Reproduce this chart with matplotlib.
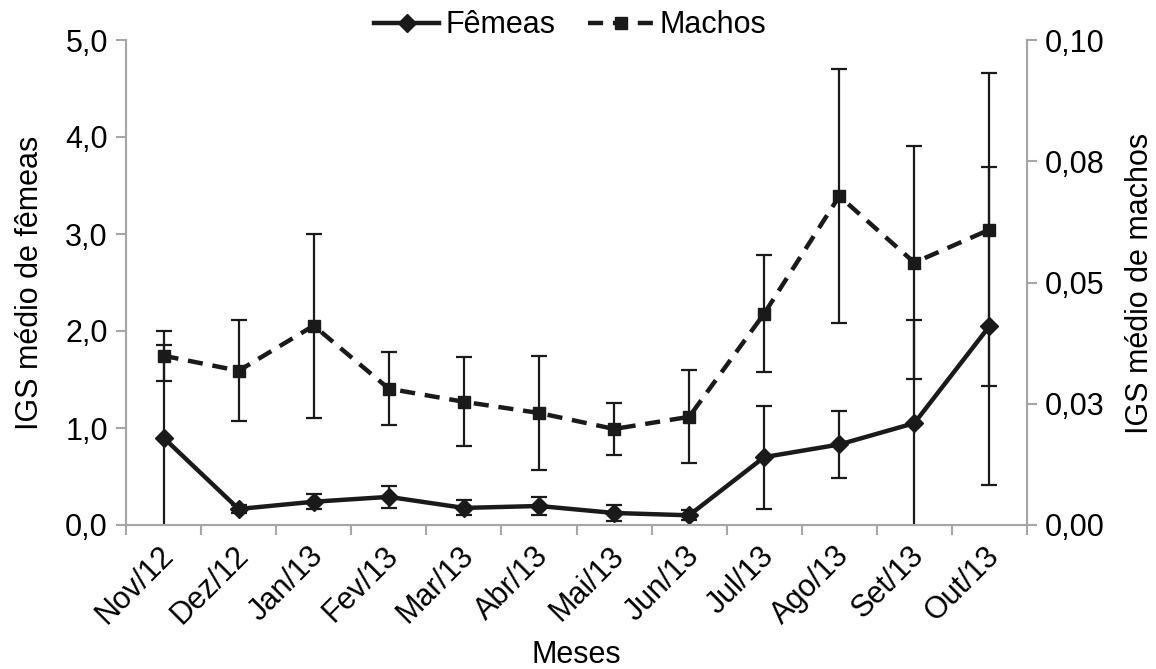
import numpy as np
import matplotlib.pyplot as plt
from matplotlib.lines import Line2D

plt.rcParams['font.family'] = ['Liberation Sans', 'DejaVu Sans']

meses = ["Nov/12", "Dez/12", "Jan/13", "Fev/13", "Mar/13", "Abr/13",
         "Mai/13", "Jun/13", "Jul/13", "Ago/13", "Set/13", "Out/13"]

# IGS medio das femeas (eixo esquerdo) e desvio
femeas = [0.90, 0.165, 0.24, 0.29, 0.176, 0.196, 0.124, 0.10, 0.70, 0.83, 1.05, 2.05]
femeas_dp = [0.96, 0.04, 0.08, 0.11, 0.077, 0.088, 0.08, 0.05, 0.53, 0.35, 1.06, 1.64]

# IGS medio dos machos (eixo direito) e desvio
machos = [0.0349, 0.0318, 0.0411, 0.0281, 0.0254, 0.0231, 0.0198, 0.0223,
          0.0436, 0.0678, 0.0541, 0.0609]
machos_dp = [0.0052, 0.0104, 0.019, 0.0075, 0.0092, 0.0118, 0.0054, 0.0096,
             0.012, 0.0262, 0.024, 0.0322]

ticks_esq = [0, 1, 2, 3, 4, 5]
rotulos_esq = ["0,0", "1,0", "2,0", "3,0", "4,0", "5,0"]
ticks_dir = [0, 0.025, 0.05, 0.075, 0.10]
rotulos_dir = ["0,00", "0,03", "0,05", "0,08", "0,10"]

fs = 22
cinza = "#a6a6a6"
preto = "#1a1a1a"
tracejado = (0, (3.4, 2.2))

W, H = 1156, 669
fig = plt.figure(figsize=(W / 100, H / 100), dpi=100)
ax = fig.add_axes([126 / W, 1 - 525 / H, (1027 - 126) / W, (525 - 40) / H])
ax2 = ax.twinx()

x = np.arange(len(meses))

ax.errorbar(x, femeas, yerr=femeas_dp, color=preto, lw=3.2, marker="D",
            ms=9, capsize=6, elinewidth=1.6, capthick=1.6)
ax2.errorbar(x, machos, yerr=machos_dp, color=preto, lw=3.2, ls=tracejado,
             marker="s", ms=9, capsize=6, elinewidth=1.6, capthick=1.6)

ax.set_xlim(-0.5, len(meses) - 0.5)
ax.set_ylim(0, 5)
ax2.set_ylim(0, 0.10)

ax.set_yticks(ticks_esq)
ax.set_yticklabels(rotulos_esq)
ax2.set_yticks(ticks_dir)
ax2.set_yticklabels(rotulos_dir)

# ticks principais invisiveis, levemente deslocados, so para os rotulos
ax.set_xticks(x + 0.07)
ax.set_xticklabels(meses, rotation=45, ha="right", va="center",
                   rotation_mode="anchor")
ax.set_xticks(np.arange(len(meses) + 1) - 0.5, minor=True)
ax.tick_params(axis="x", which="major", length=0, pad=19, labelsize=fs)
ax.tick_params(axis="x", which="minor", length=7, color=cinza, width=1.5)
ax.tick_params(axis="y", length=7, color=cinza, width=1.5, labelsize=fs, pad=6)
ax2.tick_params(axis="y", length=7, color=cinza, width=1.5, labelsize=fs, pad=6)

for a in (ax, ax2):
    a.spines["top"].set_visible(False)
    for s in ("left", "right", "bottom"):
        a.spines[s].set_color(cinza)
        a.spines[s].set_linewidth(1.5)

# titulos dos eixos em posicao fixa
fig.text(576 / W, 1 - 655 / H, "Meses", fontsize=fs, ha="center", va="center")
fig.text(30 / W, 1 - 283 / H, "IGS médio de fêmeas", fontsize=fs,
         rotation=90, ha="center", va="center")
fig.text(1140 / W, 1 - 283 / H, "IGS médio de machos", fontsize=fs,
         rotation=90, ha="center", va="center")

h1 = Line2D([], [], color=preto, lw=3.2, marker="D", ms=9)
h2 = Line2D([], [], color=preto, lw=3.2, ls=tracejado, marker="s", ms=9)
fig.legend([h1, h2], ["Fêmeas", "Machos"], loc="center", ncol=2,
           bbox_to_anchor=(570 / W, 0.962), frameon=False, fontsize=fs,
           handlelength=2.15, handletextpad=0.2, columnspacing=1.05)

fig.savefig("out.png", dpi=100)
